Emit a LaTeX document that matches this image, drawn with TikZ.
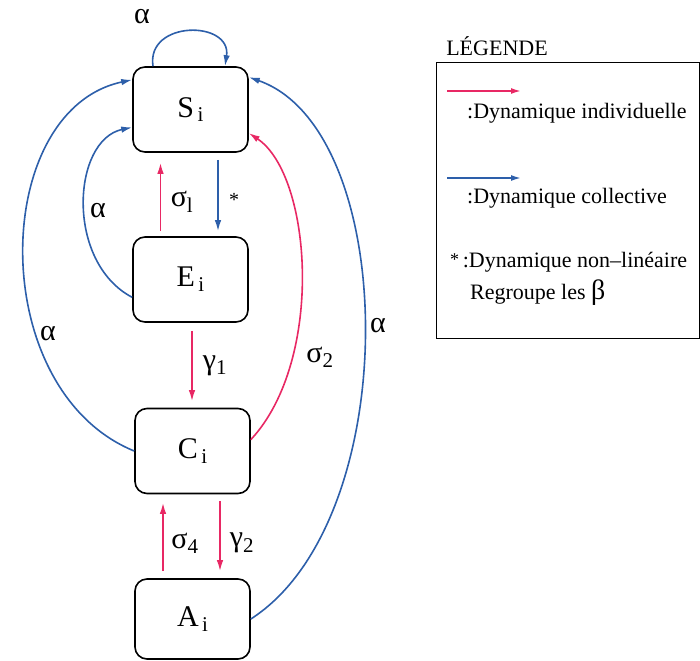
\documentclass[tikz,border=0pt]{standalone}
\usepackage{fontspec}
\setmainfont{Liberation Serif}
\usetikzlibrary{arrows.meta}
\definecolor{redc}{RGB}{232,40,100}
\definecolor{bluec}{RGB}{45,95,170}
\newcommand{\boxlbl}[1]{#1\raisebox{-0.35ex}{\fontsize{21}{22}\selectfont\,i}}
\begin{document}
\begin{tikzpicture}[x=1pt,y=-1pt,
 box/.style={draw,line width=1.6pt,rounded corners=12pt,minimum width=115pt,minimum height=85pt,font=\fontsize{30}{32}\selectfont},
 rarr/.style={draw=redc,line width=1.6pt,-{Latex[length=11pt,width=6.5pt]}},
 barr/.style={draw=bluec,line width=1.6pt,-{Latex[length=11pt,width=6.5pt]}},
 lab/.style={font=\fontsize{30}{32}\selectfont,inner sep=0pt},
 leg/.style={font=\fontsize{22}{24}\selectfont,anchor=west,inner sep=0pt}]
\useasboundingbox (0,0) rectangle (700,660);
% boxes
\node[box] (S) at (190.5,109.5) {\boxlbl{S}};
\node[box] (E) at (190.5,279.5) {\boxlbl{E}};
\node[box] (C) at (192.5,451) {\boxlbl{C}};
\node[box,minimum height=80pt] (A) at (192.5,619) {\boxlbl{A}};
% self loop
\draw[barr] ([xshift=-37.5pt]S.north) .. controls (146,20) and (232,20) .. ([xshift=34.5pt]S.north);
\node[lab] (l0) at (142,17) {α};
% straight arrows
\draw[rarr,shorten <=5pt,shorten >=10pt] ([xshift=-30pt]E.north) -- ([xshift=-30pt]S.south);
\node[lab] (l1) at (182,202) {σ\textsubscript{l}};
\draw[barr,shorten <=7pt,shorten >=5pt] ([xshift=27.5pt]S.south) -- ([xshift=27.5pt]E.north);
\node[lab,font=\fontsize{20}{22}\selectfont] (l2) at (234,200) {*};
\draw[rarr,shorten <=8pt,shorten >=6.5pt] ([xshift=1.5pt]E.south) -- ([xshift=-0.5pt]C.north);
\node[lab] (l3) at (215,366) {γ\textsubscript{1}};
\draw[rarr,shorten <=7pt,shorten >=8.5pt] ([xshift=-29.5pt]A.north) -- ([xshift=-29.5pt]C.south);
\node[lab] (l4) at (185,543) {σ\textsubscript{4}};
\draw[rarr,shorten <=6.5pt,shorten >=7pt] ([xshift=27.5pt]C.south) -- ([xshift=27.5pt]A.north);
\node[lab] (l5) at (242,543) {γ\textsubscript{2}};
% curved arrows
\draw[barr] (E.197) .. controls (65,262) and (72,140) .. (S.197);
\node[lab] (l6) at (98,211) {α};
\draw[barr] (C.west) .. controls (-15,390) and (-10,110) .. (S.153);
\node[lab] (l7) at (48,334) {α};
\draw[rarr] (C.11) .. controls (325,360) and (312,175) .. (S.338);
\node[lab] (l8) at (320,357) {σ\textsubscript{2}};
\draw[barr] (A.east) .. controls (405,520) and (400,130) .. (S.29);
\node[lab] (l9) at (378,326) {α};
% legend
\node[font=\fontsize{22}{24}\selectfont] (lt) at (497,46) {LÉGENDE};
\node[draw,line width=1.2pt,minimum width=263pt,minimum height=276pt,anchor=north west,inner sep=0pt] (lg) at (435.5,62) {};
\coordinate (r1) at (447,91);
\coordinate (r2) at (521,91);
\draw[rarr,-{Latex[length=10pt,width=6pt]}] (r1) -- (r2);
\node[leg] (t1) at (467,113) {:Dynamique individuelle};
\coordinate (b1) at (447,178);
\coordinate (b2) at (521,178);
\draw[barr,-{Latex[length=10pt,width=6pt]}] (b1) -- (b2);
\node[leg] (t2) at (467,198) {:Dynamique collective};
\node[leg] (t3) at (450,262) {\raisebox{0.15ex}{\fontsize{18}{20}\selectfont *}\,:Dynamique non–linéaire};
\node[leg] (t4) at (470,293) {Regroupe les \fontsize{28}{30}\selectfont β};
\end{tikzpicture}
\end{document}
